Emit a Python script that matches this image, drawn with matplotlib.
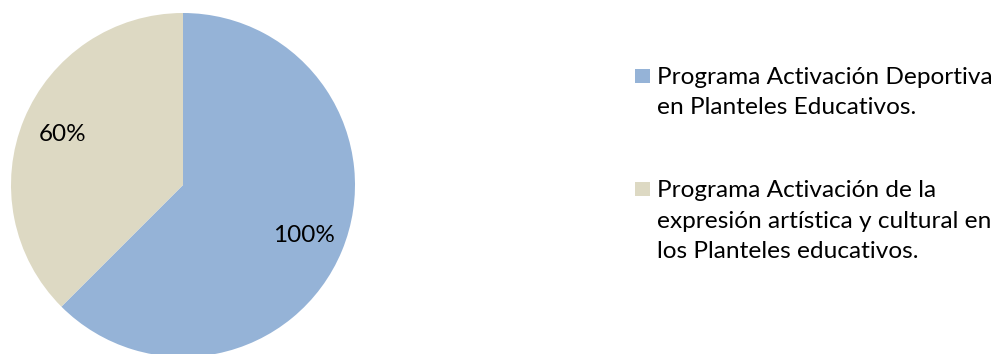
import matplotlib
matplotlib.use("Agg")
import matplotlib.pyplot as plt
from matplotlib.patches import Rectangle

# data
valores = [100, 60]
etiquetas = ["100%", "60%"]
programas = [
    "Programa Activación Deportiva\nen Planteles Educativos.",
    "Programa Activación de la\nexpresión artística y cultural en\nlos Planteles educativos.",
]
colores = ["#95B3D7", "#DDD9C3"]

plt.rcParams["font.family"] = ["Lato", "DejaVu Sans"]
W, H = 998, 354

fig = plt.figure(figsize=(W / 100, H / 100), dpi=100)

# pie: centre (183,185), radius 172 px
ax = fig.add_axes([11 / W, 1 - 357 / H, 344 / W, 344 / H])
wedges, textos = ax.pie(valores, colors=colores, startangle=90, counterclock=False,
                        labels=etiquetas, labeldistance=0.76,
                        textprops=dict(fontsize=17.5, color="black"))
for t in textos:
    t.set_ha("center")
    t.set_va("center")
ax.set_xlim(-1, 1)
ax.set_ylim(-1, 1)
ax.set_aspect("equal")

# legend in pixel coords
lg = fig.add_axes([0, 0, 1, 1])
lg.set_xlim(0, W)
lg.set_ylim(H, 0)
lg.axis("off")
primera_base = [84, 197]
paso = 30.5
for c, p, yb in zip(colores, programas, primera_base):
    lg.add_patch(Rectangle((635, yb - 15), 15, 14, color=c, lw=0))
    for i, linea in enumerate(p.split("\n")):
        lg.text(657, yb + i * paso, linea, fontsize=17.6, va="baseline", ha="left")

fig.savefig("out.png", dpi=100)
